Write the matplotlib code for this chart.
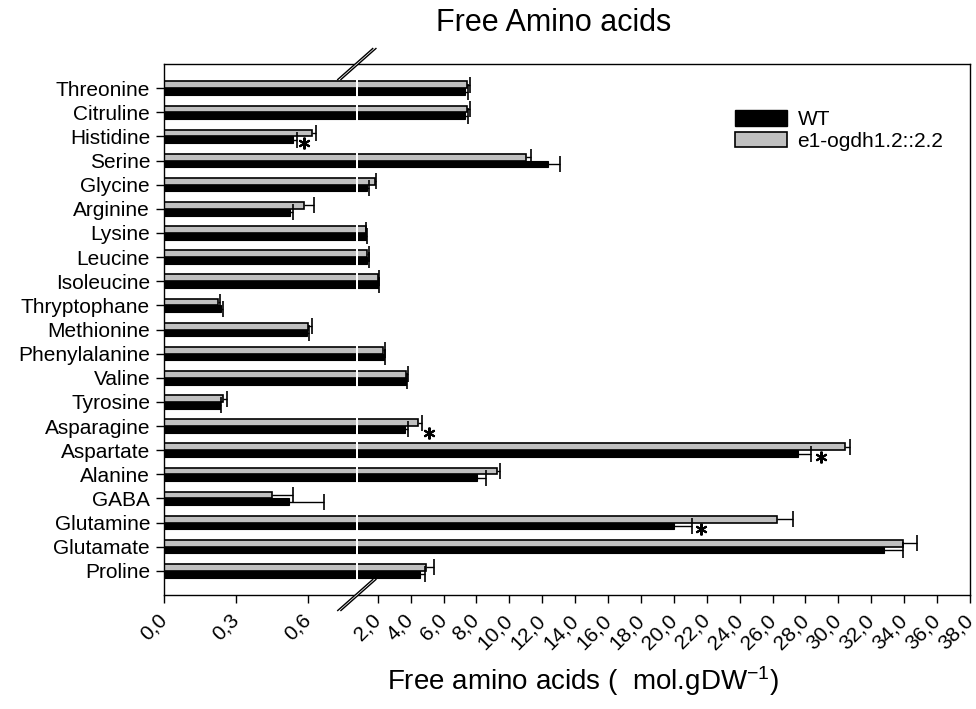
import numpy as np
import matplotlib
matplotlib.use("Agg")
import matplotlib.pyplot as plt
from matplotlib.patches import Patch, Polygon
from matplotlib.lines import Line2D
from matplotlib.transforms import ScaledTranslation

plt.rcParams['font.family'] = ['Liberation Sans', 'DejaVu Sans']
plt.rcParams['mathtext.default'] = 'regular'

# data, listed top to bottom as in the figure
names = ['Threonine', 'Citruline', 'Histidine', 'Serine', 'Glycine', 'Arginine',
         'Lysine', 'Leucine', 'Isoleucine', 'Thryptophane', 'Methionine',
         'Phenylalanine', 'Valine', 'Tyrosine', 'Asparagine', 'Aspartate',
         'Alanine', 'GABA', 'Glutamine', 'Glutamate', 'Proline']
wt = [7.31, 7.31, 0.54, 12.37, 1.33, 0.527, 1.27, 1.35, 2.02, 0.237, 0.596,
      2.38, 3.72, 0.234, 3.66, 27.57, 8.02, 0.524, 20.01, 32.8, 4.57]
wt_err = [0.16, 0.16, 0.015, 0.71, 0.16, 0.013, 0.06, 0.09, 0.06, 0.008, 0.01,
          0.06, 0.06, 0.006, 0.16, 0.75, 0.55, 0.143, 1.09, 1.1, 0.31]
mut = [7.41, 7.41, 0.617, 11.01, 1.84, 0.585, 1.27, 1.37, 2.04, 0.224, 0.603,
       2.34, 3.72, 0.248, 4.47, 30.4, 9.23, 0.453, 26.29, 33.95, 4.94]
mut_err = [0.2, 0.2, 0.018, 0.29, 0.05, 0.043, 0.02, 0.08, 0.04, 0.01, 0.014,
           0.12, 0.12, 0.014, 0.22, 0.3, 0.2, 0.085, 0.97, 0.85, 0.48]
# significance stars (x position)
star_names = ['Histidine', 'Asparagine', 'Aspartate', 'Glutamine']
star_x = [0.585, 5.12, 28.93, 21.65]

xticks = [0.0, 0.3, 0.6] + list(range(2, 40, 2))

# broken axis: 0-0.8 stretched, then 0.81-38 compressed
brk = [0, 0.8, 0.81, 38]
pix = [0, 191.5, 194.16, 806]
def fwd(x):
    return np.interp(x, brk, pix)
def inv(p):
    return np.interp(p, pix, brk)

fig = plt.figure(figsize=(9.76, 7.09), dpi=100)
ax = fig.add_axes([164/976, 1-595/709, 806/976, 531/709])
ax.set_xscale('function', functions=(fwd, inv))

y = np.arange(len(names))[::-1]
h = 0.28
ax.barh(y - h/2, wt, height=h, color='black', edgecolor='black', lw=0.8, zorder=1)
ax.barh(y + h/2, mut, height=h, color='#c0c0c0', edgecolor='black', lw=1.2, zorder=1)

# one sided error bars with caps on the outer end only
for vals, errs, yy in ((wt, wt_err, y - h/2), (mut, mut_err, y + h/2)):
    vals = np.array(vals)
    errs = np.array(errs)
    ax.errorbar(vals, yy, xerr=[np.zeros_like(errs), errs], fmt='none',
                ecolor='black', elinewidth=1.0, capsize=0, zorder=3)
    ax.plot(vals + errs, yy, ls='none', marker='|', ms=11, mew=1.2,
            color='black', zorder=3)

star_y = [y[names.index(n)] - 0.28 for n in star_names]
ax.plot(star_x, star_y, ls='none', marker=(6, 2, 0), ms=8.5, mew=1.5,
        color='black', zorder=4)

ax.set_xlim(0, 38)
ax.set_ylim(-1, len(names))
ax.set_yticks(y)
ax.set_yticklabels(names, fontsize=15)
ax.set_xticks(xticks)
ax.set_xticklabels([('%.1f' % t).replace('.', ',') for t in xticks],
                   rotation=45, ha='right', va='center', rotation_mode='anchor',
                   fontsize=15)
ax.xaxis.set_minor_locator(matplotlib.ticker.NullLocator())
ax.tick_params(axis='both', direction='out', length=6, width=1.0)
ax.tick_params(axis='y', pad=4)
ax.tick_params(axis='x', pad=10)
for s in ax.spines.values():
    s.set_linewidth(1.0)

# white gap through the bars at the break
ax.axvspan(0.8, 0.81, color='white', lw=0, zorder=2)

# break marks on top and bottom spines
xa = ax.transAxes.inverted().transform(ax.transData.transform((0.805, 0)))[0]
for ya in (0, 1):
    tr = fig.dpi_scale_trans + ScaledTranslation(xa, ya, ax.transAxes)
    dx, dy, g = 0.175, 0.155, 0.016
    poly = Polygon([(-dx - g, -dy), (dx - g, dy), (dx + g, dy), (-dx + g, -dy)],
                   closed=True, facecolor='white', edgecolor='none',
                   transform=tr, clip_on=False, zorder=5)
    ax.add_patch(poly)
    for off in (-g, g):
        ax.add_line(Line2D([-dx + off, dx + off], [-dy, dy], color='black',
                           lw=1.0, transform=tr, clip_on=False, zorder=6))

handles = [Patch(facecolor='black', edgecolor='black', label='WT'),
           Patch(facecolor='#c0c0c0', edgecolor='black', lw=1.2, label='e1-ogdh1.2::2.2')]
ax.legend(handles=handles, loc='upper left', bbox_to_anchor=(735/976, 1-110/709),
          bbox_transform=fig.transFigure, frameon=False, fontsize=15,
          handlelength=2.5, handleheight=0.78, handletextpad=0.5,
          labelspacing=0.12, borderpad=0, borderaxespad=0)

fig.text(554/976, 1-23/709, 'Free Amino acids', ha='center', va='center', fontsize=22)
fig.text(583/976, 1-681/709, 'Free amino acids (  mol.gDW$^{-1}$)',
         ha='center', va='center', fontsize=20)

fig.savefig('out.png', dpi=100)
